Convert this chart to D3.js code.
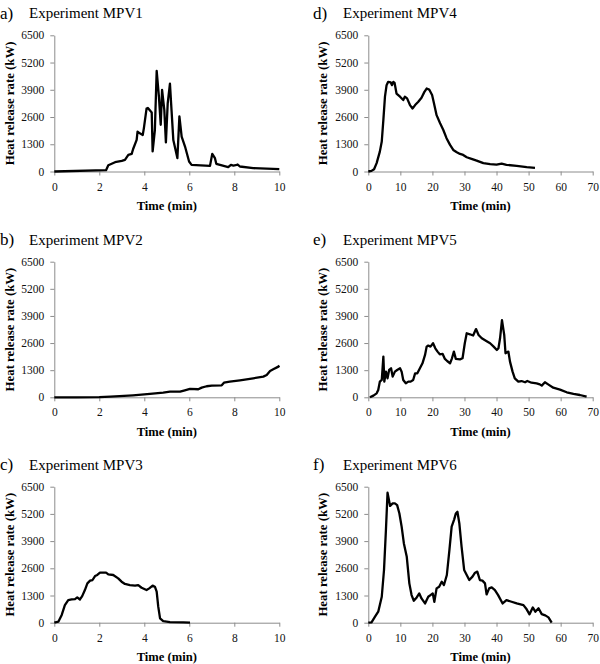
<!DOCTYPE html>
<html><head><meta charset="utf-8">
<script src="https://cdn.jsdelivr.net/npm/d3@7"></script>
<style>body{margin:0;background:#fff}svg{display:block}
svg text{font-family:"Liberation Serif","Times New Roman",Times,serif;}</style>
</head><body><svg id="c" width="600" height="664"></svg>
<script>
// ---------- data ----------
const yTicks = [0, 1300, 2600, 3900, 5200, 6500];
const xTicksShort = [0, 2, 4, 6, 8, 10];
const xTicksLong = [0, 10, 20, 30, 40, 50, 60, 70];
const panelLetters = ["a)", "b)", "c)", "d)", "e)", "f)"];
const panelTitles = ["Experiment MPV1", "Experiment MPV2", "Experiment MPV3", "Experiment MPV4", "Experiment MPV5", "Experiment MPV6"];
const yTitle = "Heat release rate (kW)";
const xTitle = "Time (min)";

const mpv1Time = [0,2.3,2.4,2.7,3.0,3.14,3.29,3.44,3.5,3.66,3.7,3.8,3.93,3.98,4.1,4.16,4.33,4.37,4.47,4.55,4.65,4.73,4.79,4.89,4.96,5.04,5.14,5.21,5.29,5.47,5.56,5.66,5.81,5.99,6.1,6.92,7.02,7.14,7.2,7.73,7.85,7.96,8.06,8.15,8.25,8.84,10];
const mpv1Hrr  = [0,63,300,444,507,555,793,840,1062,1506,1900,1820,1740,2060,3000,3030,2820,956,1980,4800,3560,2230,3900,2930,1390,3250,4190,2930,1500,640,2630,1660,1190,475,317,270,840,634,365,206,317,285,300,333,238,160,110];

const mpv2Time = [0,1,2,2.5,3.5,4.25,4.84,5.14,5.59,5.8,6.03,6.4,6.55,6.77,7,7.44,7.54,7.8,8.25,8.84,9.29,9.44,9.59,9.73,9.96,10];
const mpv2Hrr  = [0,0,5,30,95,160,220,270,270,335,400,385,465,530,560,575,700,750,815,910,990,1070,1260,1340,1470,1520];

const mpv3Time = [0,0.18,0.33,0.47,0.62,0.77,0.92,1.02,1.14,1.24,1.36,1.47,1.59,1.7,1.81,1.91,2.03,2.18,2.3,2.4,2.62,2.84,2.99,3.14,3.36,3.59,3.73,3.88,4.1,4.22,4.37,4.47,4.55,4.62,4.7,4.84,5.14,5.73,6.03];
const mpv3Hrr  = [0,50,370,840,1080,1110,1130,1210,1110,1270,1560,1880,2010,2040,2230,2280,2390,2390,2390,2310,2280,2120,1960,1850,1800,1770,1800,1670,1560,1640,1770,1720,1480,765,210,80,32,16,0];

const mpv4Time = [0,1,1.8,2.6,3.6,4.2,4.7,5.2,5.7,6.2,7,7.4,7.8,8.2,8.8,9.9,10.9,11.4,12.1,13,13.8,14.6,15.6,16.6,17.5,18.2,19,19.9,20.5,21.3,22.4,23.4,24.4,25.5,26.5,27.6,28.6,29.6,30.7,32.2,33.8,35.9,38,40,41.6,43.1,46.3,49.4,52];
const mpv4Hrr  = [0,30,110,400,950,1430,2460,3570,4120,4280,4250,4120,4280,4230,3720,3570,3410,3570,3490,3170,3010,3170,3330,3520,3800,3960,3910,3650,3250,2690,2300,1980,1590,1270,1030,920,840,790,680,600,520,400,350,330,380,317,270,206,175];

const mpv5Time = [0.5,1.6,2.6,3.1,3.6,4.2,4.7,5,5.5,6,6.5,7.1,7.6,8.3,9,9.9,10.4,10.9,11.7,12.5,13.2,14,14.6,15.3,16.1,16.9,17.7,18.2,18.7,19.4,20.2,20.9,21.6,22.3,23.2,23.9,24.6,25.5,26.1,26.7,27.3,28.6,29.4,30.1,30.7,31.7,32.7,33.6,34.4,35.4,36.8,38,39.1,40.1,40.6,41.1,41.7,42.4,42.8,43.7,44.2,45,45.7,46.8,47.8,48.9,49.6,50.9,52.5,53.5,54.1,55.1,56.1,57.7,59.8,61.9,64,66,68.1];
const mpv5Hrr  = [0,80,190,350,750,830,1950,750,1230,910,1310,1390,990,1230,1310,1390,1230,830,670,750,750,830,1150,1150,1390,1630,2030,2430,2480,2430,2590,2350,2190,2060,2080,1840,1740,1630,1870,2190,1840,1820,1870,2590,3070,3020,2960,3270,2990,2830,2700,2590,2430,2270,2350,2830,3700,2990,2110,2190,1710,1230,910,750,780,720,780,700,670,620,560,720,620,460,370,240,160,110,30];

const mpv6Time = [0,1,2.1,3.1,4.2,4.9,5.5,6,6.8,7.6,8.3,9,9.7,10.4,11.1,12,12.8,13.5,14.2,15.1,15.9,16.6,17.7,18.7,19.4,20.1,20.6,21.3,22.1,22.9,23.6,24.5,25.3,26,26.8,27.3,27.8,28.4,29.1,29.9,30.7,31.5,32.5,33.3,34,34.8,35.6,36.4,36.9,37.7,38.5,39.5,40.5,41.9,43.1,44.7,46.3,48.4,49.4,50.3,51.3,52.1,53.1,54.1,55.2,56.2,57.2];
const mpv6Hrr  = [0,16,290,525,1240,2520,4430,6210,5580,5700,5700,5620,5220,4590,3790,3150,1880,1320,1050,1210,1400,1160,920,1240,1320,1400,1000,1640,1720,1960,1800,2280,3470,4590,4940,5220,5300,4750,3630,2520,2280,2040,2200,2390,2440,2040,2010,1880,1350,1640,1690,1560,1320,920,1080,1000,920,840,640,400,730,525,690,410,350,255,0];

// ---------- layout ----------
const series = [
  {t: mpv1Time, v: mpv1Hrr, xt: xTicksShort},
  {t: mpv2Time, v: mpv2Hrr, xt: xTicksShort},
  {t: mpv3Time, v: mpv3Hrr, xt: xTicksShort},
  {t: mpv4Time, v: mpv4Hrr, xt: xTicksLong},
  {t: mpv5Time, v: mpv5Hrr, xt: xTicksLong},
  {t: mpv6Time, v: mpv6Hrr, xt: xTicksLong}
];
const colX = [{x0: 54.3, x1: 279.3, letterX: 0, titleX: 29, yTitleX: 14}, {x0: 368.3, x1: 592.7, letterX: 313, titleX: 343, yTitleX: 327}];
const rowY = [{top: 35.3, bottom: 171.5}, {top: 261.7, bottom: 397.3}, {top: 486.7, bottom: 622.7}];

const svg = d3.select("#c");
const serif = '"Liberation Serif","Times New Roman",Times,serif';
const axisColor = "#8c8c8c";

series.forEach((s, i) => {
  const col = colX[Math.floor(i / 3)];
  const row = rowY[i % 3];
  const xMax = s.xt[s.xt.length - 1];
  const x = d3.scaleLinear().domain([0, xMax]).range([col.x0, col.x1]);
  const y = d3.scaleLinear().domain([0, 6500]).range([row.bottom, row.top]);
  const g = svg.append("g");

  const ya = g.append("g").attr("transform", `translate(${col.x0},0)`)
    .call(d3.axisLeft(y).tickValues(yTicks).tickSize(4).tickSizeOuter(0).tickPadding(6).tickFormat(d3.format("d")));
  const xa = g.append("g").attr("transform", `translate(0,${row.bottom})`)
    .call(d3.axisBottom(x).tickValues(s.xt).tickSize(4).tickSizeOuter(0).tickPadding(7).tickFormat(d3.format("d")));
  [ya, xa].forEach(a => {
    a.attr("font-family", null);
    a.selectAll("path.domain").attr("stroke", axisColor).attr("stroke-width", 1);
    a.selectAll(".tick line").attr("stroke", axisColor);
    a.selectAll("text").style("font-family", serif).attr("font-size", 11.5).attr("fill", "#111");
  });

  g.append("path")
    .datum(s.t.map((t, k) => [t, s.v[k]]))
    .attr("fill", "none").attr("stroke", "#000").attr("stroke-width", 2.3)
    .attr("stroke-linejoin", "round")
    .attr("d", d3.line().x(d => x(d[0])).y(d => y(d[1])));

  g.append("text").attr("x", col.letterX).attr("y", row.top - 16.5)
    .style("font-family", serif).attr("font-size", 17).text(panelLetters[i]);
  g.append("text").attr("x", col.titleX).attr("y", row.top - 17)
    .style("font-family", serif).attr("font-size", 15).text(panelTitles[i]);

  g.append("text").attr("x", (col.x0 + col.x1) / 2).attr("y", row.bottom + 38.5)
    .attr("text-anchor", "middle").style("font-family", serif).attr("font-weight", "bold")
    .attr("font-size", 12.6).text(xTitle);
  g.append("text")
    .attr("transform", `translate(${col.yTitleX},${(row.top + row.bottom) / 2}) rotate(-90)`)
    .attr("text-anchor", "middle").style("font-family", serif).attr("font-weight", "bold")
    .attr("font-size", 12.8).text(yTitle);
});
</script></body></html>
